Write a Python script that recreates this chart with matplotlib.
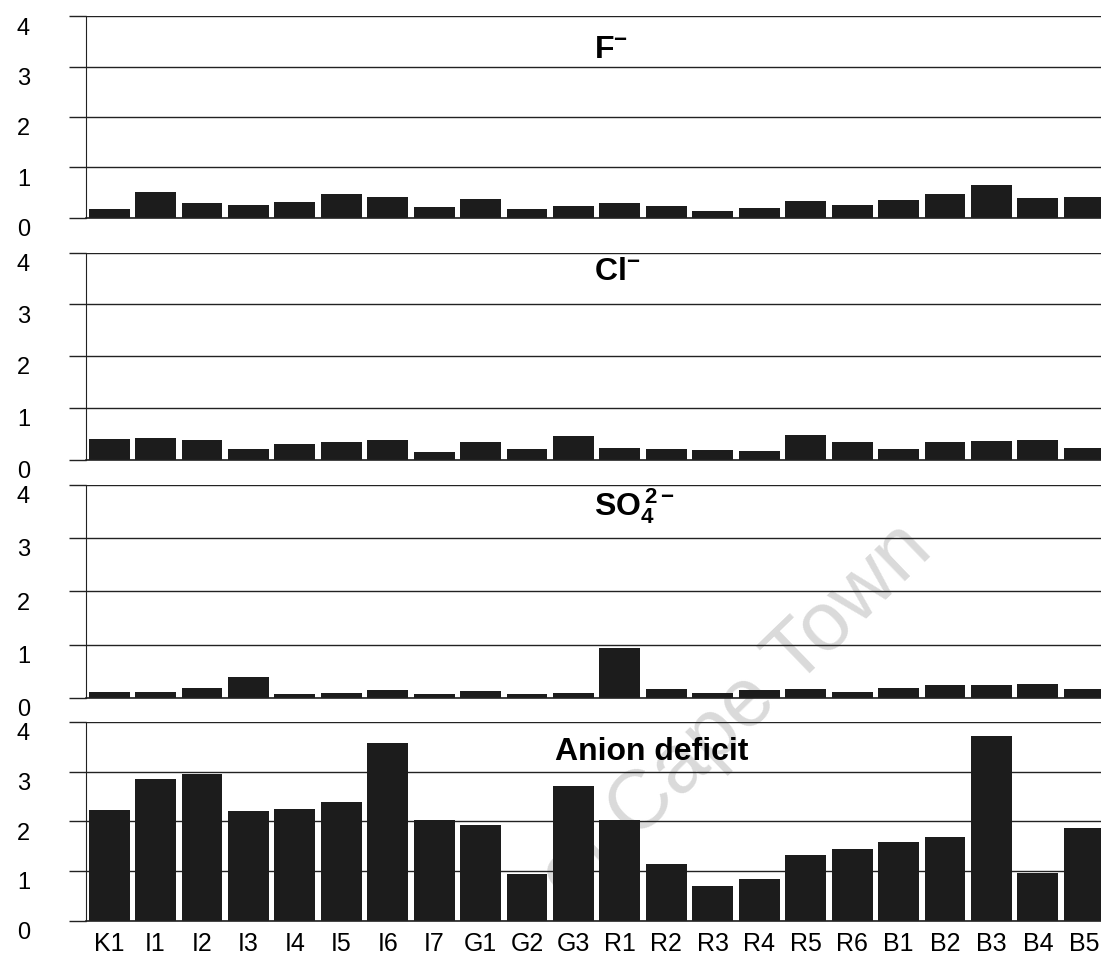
import matplotlib.pyplot as plt
import matplotlib.transforms as mtransforms

plt.rcParams['font.family'] = ['Liberation Sans', 'DejaVu Sans']
plt.rcParams['mathtext.fontset'] = 'custom'
plt.rcParams['mathtext.rm'] = 'Liberation Sans'
plt.rcParams['mathtext.bf'] = 'Liberation Sans:bold'

sites = ["K1", "I1", "I2", "I3", "I4", "I5", "I6", "I7", "G1", "G2", "G3",
         "R1", "R2", "R3", "R4", "R5", "R6", "B1", "B2", "B3", "B4", "B5"]

fluoride = [0.17, 0.52, 0.29, 0.25, 0.32, 0.47, 0.42, 0.22, 0.37, 0.17, 0.24,
            0.29, 0.24, 0.13, 0.20, 0.33, 0.26, 0.35, 0.47, 0.65, 0.39, 0.42]
chloride = [0.41, 0.42, 0.39, 0.21, 0.30, 0.35, 0.39, 0.16, 0.35, 0.20, 0.46,
            0.23, 0.20, 0.19, 0.17, 0.48, 0.34, 0.20, 0.34, 0.36, 0.39, 0.23]
sulphate = [0.12, 0.11, 0.19, 0.39, 0.07, 0.10, 0.15, 0.07, 0.13, 0.07, 0.10,
            0.94, 0.16, 0.09, 0.15, 0.16, 0.12, 0.19, 0.24, 0.24, 0.27, 0.16]
anion_deficit = [2.23, 2.85, 2.96, 2.20, 2.25, 2.39, 3.58, 2.03, 1.92, 0.94, 2.72,
                 2.02, 1.15, 0.69, 0.83, 1.32, 1.45, 1.58, 1.68, 3.71, 0.96, 1.87]

panels = [
    (fluoride, r'$\mathbf{F^{-}}$', 0.983, 0.774, 10.44, 3.18),
    (chloride, r'$\mathbf{Cl^{-}}$', 0.738, 0.523, 10.44, 3.48),
    (sulphate, r'$\mathbf{SO_4^{\,2-}}$', 0.497, 0.276, 10.44, 3.42),
    (anion_deficit, 'Anion deficit', 0.251, 0.045, 9.6, 3.24),
]

fig = plt.figure(figsize=(11.01, 9.64), dpi=100)
x = list(range(len(sites)))

for i, (vals, title, top, bottom, tx, ty) in enumerate(panels):
    ax = fig.add_axes([0.078, bottom, 0.922, top - bottom])
    ax.set_facecolor('none')
    ax.bar(x, vals, width=0.88, color='#1c1c1c', zorder=3)
    ax.set_xlim(-0.5, 21.36)
    ax.set_ylim(0, 4)
    ax.set_yticks([0, 1, 2, 3, 4])
    ax.grid(axis='y', color='#222222', linewidth=1.0, zorder=1)
    for s in ['top', 'right']:
        ax.spines[s].set_visible(False)
    ax.spines['left'].set_linewidth(0.8)
    ax.spines['left'].set_color('#222222')
    ax.spines['bottom'].set_linewidth(1.2)
    ax.spines['bottom'].set_color('#222222')
    ax.spines['bottom'].set_zorder(4)
    ax.tick_params(axis='y', direction='out', length=12.2, width=1.0,
                   color='#222222', pad=28, labelsize=17)
    off = mtransforms.ScaledTranslation(0, -7 / 72, fig.dpi_scale_trans)
    for lab in ax.get_yticklabels():
        lab.set_transform(lab.get_transform() + off)
    ax.text(tx, ty, title, ha='left', va='baseline', fontsize=23,
            fontweight='bold', zorder=5)
    ax.set_xticks(x)
    if i == 3:
        ax.set_xticklabels(sites, fontsize=18)
        ax.tick_params(axis='x', length=0, pad=8)
    else:
        ax.set_xticklabels([])
        ax.tick_params(axis='x', length=0)

fig.text(0.669, 0.26, 'of Cape Town', fontsize=60, color='#dadada',
         rotation=44, ha='center', va='center', zorder=-1)

fig.savefig('out.png', dpi=100)
